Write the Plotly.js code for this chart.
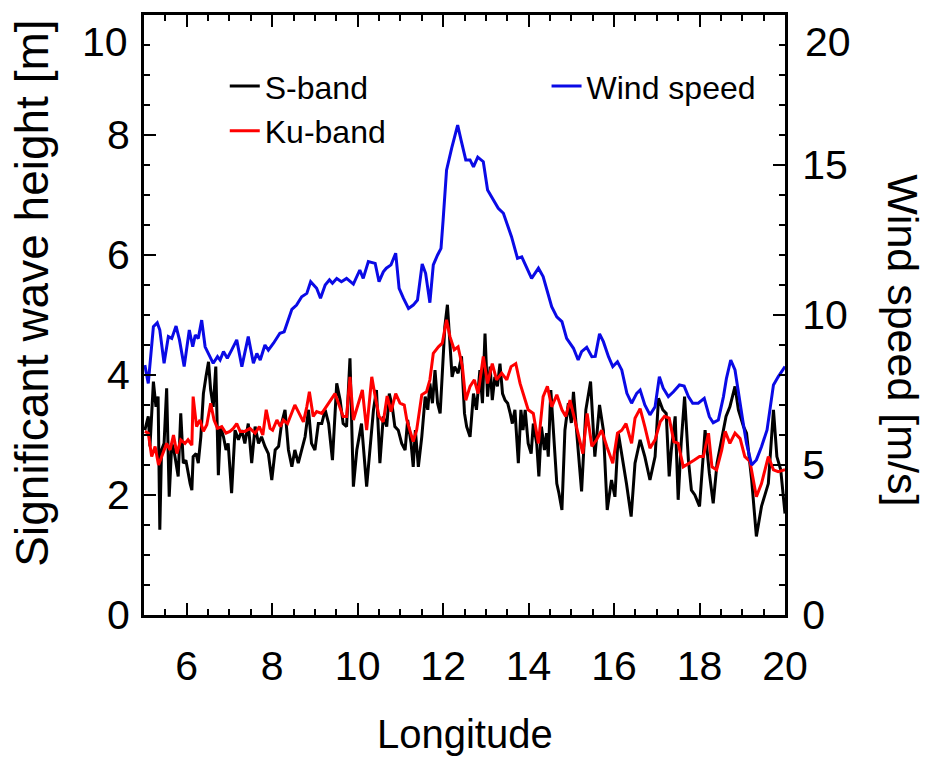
<!DOCTYPE html>
<html>
<head>
<meta charset="utf-8">
<script src="https://cdn.plot.ly/plotly-3.0.1.min.js"></script>
<style>html,body{margin:0;padding:0;background:#fff;}#chart{width:926px;height:761px;}</style>
</head>
<body>
<div id="chart"></div>
<script>
// S-band significant wave height [m]
const sLon = [5.02,5.10,5.14,5.22,5.28,5.33,5.37,5.41,5.47,5.53,5.59,5.65,5.70,5.75,5.80,5.86,5.92,5.98,6.04,6.08,6.12,6.15,6.22,6.27,6.33,6.39,6.45,6.51,6.56,6.62,6.68,6.74,6.79,6.86,6.92,6.97,7.05,7.13,7.21,7.29,7.36,7.44,7.52,7.60,7.68,7.75,7.83,7.91,7.99,8.07,8.15,8.22,8.30,8.38,8.46,8.53,8.61,8.69,8.77,8.85,8.92,9.00,9.08,9.16,9.24,9.32,9.41,9.51,9.59,9.66,9.74,9.82,9.90,9.98,10.09,10.21,10.29,10.37,10.44,10.52,10.60,10.68,10.74,10.81,10.87,10.95,11.03,11.11,11.17,11.25,11.30,11.35,11.42,11.50,11.58,11.64,11.69,11.75,11.81,11.87,11.93,11.98,12.04,12.10,12.16,12.21,12.27,12.35,12.43,12.50,12.55,12.63,12.71,12.78,12.86,12.92,12.98,13.04,13.10,13.15,13.21,13.27,13.33,13.39,13.45,13.51,13.57,13.62,13.68,13.76,13.82,13.87,13.92,13.99,14.06,14.11,14.19,14.24,14.30,14.37,14.42,14.46,14.52,14.58,14.66,14.71,14.78,14.85,14.93,15.00,15.05,15.14,15.24,15.34,15.45,15.55,15.66,15.75,15.84,15.94,16.02,16.10,16.22,16.29,16.40,16.49,16.61,16.72,16.84,16.96,17.04,17.14,17.22,17.29,17.34,17.43,17.50,17.57,17.65,17.74,17.81,17.89,18.00,18.13,18.23,18.32,18.41,18.52,18.62,18.71,18.83,18.91,19.03,19.10,19.22,19.33,19.45,19.61,19.73,19.81,19.90,20.00];
const sBand = [3.08,3.31,2.81,3.89,3.47,3.64,1.42,2.75,2.86,3.78,1.97,2.86,2.75,2.53,2.31,3.36,2.53,2.58,2.31,2.19,2.08,2.64,2.69,2.53,2.97,3.69,3.97,4.22,3.75,3.47,4.14,2.33,3.14,2.97,2.75,2.86,2.03,3.08,2.92,3.08,2.86,3.19,2.53,3.14,2.86,2.97,2.81,2.69,2.25,2.75,2.81,3.19,3.42,2.75,2.47,2.75,2.53,2.75,2.97,3.42,2.86,2.75,3.19,3.19,3.42,3.19,2.58,3.86,3.58,3.19,3.14,4.28,2.14,2.75,3.19,2.14,2.81,3.42,3.75,2.53,3.31,3.14,3.69,3.47,3.14,3.08,2.86,2.75,3.25,2.86,2.47,3.08,2.47,2.97,3.64,3.42,3.86,3.53,4.08,3.53,3.36,4.08,4.81,5.17,4.53,3.97,4.14,4.03,4.31,3.36,3.14,2.97,3.69,3.42,4.08,3.53,4.69,3.64,4.14,3.58,3.97,3.81,4.19,3.69,3.58,3.53,3.36,3.19,3.42,2.53,3.42,3.08,3.42,2.86,2.69,3.19,2.86,2.31,3.14,2.75,3.03,2.64,3.75,3.08,2.19,2.03,1.75,3.08,3.53,3.20,3.72,2.92,2.06,3.42,3.89,2.64,3.50,3.08,1.75,2.25,1.97,3.03,2.53,2.19,1.64,2.53,2.92,2.64,2.25,2.64,3.61,3.42,3.36,2.31,2.75,3.31,1.92,2.86,3.64,2.58,2.08,2.00,1.81,3.08,2.36,1.86,2.53,2.97,3.31,3.47,3.81,3.42,3.14,3.03,2.25,1.31,1.81,2.19,3.42,2.64,2.42,1.69];

// Ku-band significant wave height [m]
const kuLon = [5.02,5.10,5.18,5.26,5.34,5.41,5.53,5.61,5.69,5.77,5.86,5.96,6.03,6.12,6.15,6.23,6.31,6.39,6.47,6.56,6.64,6.72,6.82,6.92,7.01,7.09,7.17,7.25,7.36,7.48,7.60,7.70,7.78,7.86,7.95,8.01,8.11,8.19,8.26,8.36,8.46,8.53,8.61,8.73,8.81,8.87,8.96,9.04,9.16,9.26,9.36,9.47,9.55,9.66,9.74,9.82,9.90,10.02,10.11,10.21,10.33,10.41,10.50,10.60,10.69,10.78,10.89,10.99,11.09,11.15,11.22,11.30,11.38,11.50,11.61,11.69,11.77,11.89,11.98,12.08,12.16,12.26,12.35,12.45,12.53,12.63,12.73,12.82,12.94,13.04,13.15,13.25,13.37,13.49,13.59,13.70,13.80,13.90,13.99,14.11,14.23,14.34,14.44,14.54,14.66,14.78,14.87,14.97,15.06,15.16,15.27,15.37,15.48,15.59,15.71,15.83,15.97,16.08,16.18,16.28,16.41,16.49,16.61,16.72,16.84,16.96,17.08,17.18,17.29,17.40,17.50,17.62,17.74,17.87,18.00,18.09,18.21,18.29,18.40,18.52,18.60,18.71,18.83,18.95,19.06,19.18,19.33,19.45,19.61,19.73,19.84,20.00];
const kuBand = [3.06,3.03,2.64,2.81,2.50,2.64,2.86,2.75,3.00,2.69,2.92,2.86,2.92,2.83,3.64,3.14,3.25,3.06,3.17,3.53,3.25,3.11,3.14,3.03,3.06,3.11,3.19,3.06,3.06,3.11,3.03,3.14,3.00,3.42,3.11,3.08,3.25,3.14,3.25,3.19,3.36,3.50,3.39,3.22,3.47,3.72,3.31,3.39,3.36,3.47,3.58,3.69,3.53,3.31,3.31,3.97,3.25,3.55,3.75,3.08,3.97,3.64,3.31,3.22,3.65,3.39,3.69,3.53,3.50,3.25,3.08,2.89,3.08,3.67,3.72,3.92,4.36,4.47,4.53,4.92,4.64,4.42,4.47,4.14,3.58,3.81,3.92,3.69,4.31,3.86,4.19,3.92,4.03,3.92,4.14,4.19,3.86,3.64,3.42,3.36,2.86,3.64,3.81,3.47,3.67,3.42,3.31,3.58,3.30,3.03,2.69,3.36,2.81,2.92,3.08,2.81,2.53,3.03,3.08,3.19,2.86,3.28,3.44,3.14,2.78,2.92,3.22,3.31,3.28,2.89,2.86,2.47,2.53,2.58,2.64,2.64,3.03,2.47,2.42,2.75,3.06,2.86,3.03,2.94,2.64,2.56,1.97,2.19,2.64,2.42,2.39,2.42];

// Wind speed [m/s]
const wLon = [5.02,5.10,5.22,5.31,5.37,5.47,5.57,5.65,5.75,5.83,5.94,6.06,6.14,6.20,6.27,6.35,6.43,6.54,6.62,6.72,6.78,6.86,6.95,7.05,7.17,7.29,7.44,7.56,7.64,7.72,7.83,7.91,8.03,8.18,8.28,8.46,8.57,8.69,8.81,8.90,9.04,9.13,9.24,9.34,9.41,9.51,9.62,9.74,9.90,10.05,10.13,10.25,10.41,10.50,10.60,10.67,10.78,10.89,10.97,11.07,11.19,11.30,11.40,11.51,11.59,11.69,11.77,11.87,11.95,12.00,12.08,12.20,12.34,12.42,12.53,12.63,12.71,12.81,12.94,13.04,13.17,13.29,13.41,13.60,13.74,13.84,14.07,14.23,14.34,14.54,14.66,14.78,14.89,15.05,15.16,15.24,15.36,15.48,15.56,15.66,15.75,15.87,15.97,16.08,16.18,16.30,16.41,16.53,16.61,16.72,16.84,16.96,17.06,17.15,17.27,17.39,17.53,17.64,17.74,17.84,17.97,18.11,18.23,18.32,18.44,18.56,18.63,18.73,18.83,18.91,19.01,19.10,19.22,19.33,19.45,19.58,19.73,19.84,20.00];
const wind = [8.33,7.72,9.61,9.74,9.50,8.39,9.28,9.22,9.63,9.17,8.28,9.50,8.94,9.33,9.22,9.83,8.94,8.61,8.39,8.61,8.50,8.78,8.56,8.83,9.17,8.28,9.28,8.39,8.72,8.50,9.00,8.83,9.06,9.39,9.44,10.19,10.33,10.61,10.72,11.11,10.89,10.56,11.00,11.17,11.06,11.22,11.11,11.22,11.03,11.50,11.22,11.78,11.72,11.11,11.44,11.56,11.67,12.06,10.89,10.56,10.22,10.33,10.50,11.70,11.39,10.41,11.67,12.00,12.22,13.17,14.83,15.56,16.33,15.83,15.17,15.17,14.94,15.26,15.11,14.17,13.83,13.56,13.39,12.61,11.89,11.94,11.22,11.56,11.28,10.28,9.94,9.78,9.22,8.89,8.50,8.78,8.92,8.61,8.62,9.37,9.11,8.61,8.28,8.44,8.17,7.39,7.06,7.39,7.50,7.00,6.67,6.94,7.94,7.56,7.28,7.44,7.67,7.63,7.28,7.06,7.06,7.22,6.61,6.41,6.50,7.28,7.89,8.50,8.17,7.39,6.50,5.72,5.00,5.17,5.61,6.17,7.67,7.94,8.28];

const xTicks = [6,8,10,12,14,16,18,20];
const yTicks = [0,2,4,6,8,10];
const y2Ticks = [0,5,10,15,20];

const TXT = "Liberation Sans, Arial, Helvetica, sans-serif";
const TICKSIZE = 41;

const traces = [
  {x: sLon, y: sBand, name: "S-band", type: "scatter", mode: "lines",
   line: {color: "#000000", width: 3}, legend: "legend", xaxis: "x", yaxis: "y"},
  {x: kuLon, y: kuBand, name: "Ku-band", type: "scatter", mode: "lines",
   line: {color: "#ff0000", width: 3}, legend: "legend", xaxis: "x", yaxis: "y"},
  {x: wLon, y: wind, name: "Wind speed", type: "scatter", mode: "lines",
   line: {color: "rgb(10,10,230)", width: 3}, legend: "legend2", xaxis: "x", yaxis: "y2"}
];

const tickCommon = {
  ticks: "inside", tickcolor: "#000", tickwidth: 2, showline: true, linecolor: "#000",
  linewidth: 3, showgrid: false, zeroline: false, fixedrange: true,
  tickfont: {family: TXT, size: TICKSIZE, color: "#000"}
};

// the topmost label of each vertical axis is drawn just below the frame top
const yTop = yTicks[yTicks.length - 1];
const y2Top = y2Ticks[y2Ticks.length - 1];

const layout = {
  width: 926, height: 761,
  margin: {l: 144, r: 141, t: 15, b: 146, pad: 0},
  paper_bgcolor: "#fff", plot_bgcolor: "#fff",
  showlegend: true,
  xaxis: Object.assign({}, tickCommon, {
    range: [5, 20], tickmode: "array", tickvals: xTicks, ticktext: xTicks.map(String),
    ticklen: 12, mirror: "ticks", ticklabelstandoff: 13,
    minor: {dtick: 0.5, tick0: 0, ticks: "inside", ticklen: 6, tickwidth: 2, tickcolor: "#000", showgrid: false}
  }),
  yaxis: Object.assign({}, tickCommon, {
    range: [0, 10], tickmode: "array", tickvals: yTicks,
    ticktext: yTicks.map(v => v === yTop ? "" : String(v)),
    ticklen: 12, mirror: false, ticklabelstandoff: 3,
    minor: {dtick: 0.5, tick0: 0, ticks: "inside", ticklen: 6, tickwidth: 2, tickcolor: "#000", showgrid: false}
  }),
  yaxis2: Object.assign({}, tickCommon, {
    range: [0, 20], overlaying: "y", side: "right", anchor: "x",
    tickmode: "array", tickvals: y2Ticks,
    ticktext: y2Ticks.map(v => v === y2Top ? "" : String(v)),
    ticklen: 12, ticklabelstandoff: 6,
    minor: {dtick: 1, tick0: 0, ticks: "inside", ticklen: 6, tickwidth: 2, tickcolor: "#000", showgrid: false}
  }),
  legend: {x: 0.126, y: 0.927, xanchor: "left", yanchor: "top", bgcolor: "rgba(0,0,0,0)",
    borderwidth: 0, font: {family: TXT, size: 32, color: "#000"}, tracegroupgap: 0},
  legend2: {x: 0.628, y: 0.927, xanchor: "left", yanchor: "top", bgcolor: "rgba(0,0,0,0)",
    borderwidth: 0, font: {family: TXT, size: 32, color: "#000"}},
  annotations: [
    {text: String(yTop), xref: "paper", yref: "y", x: 0, y: yTop, xanchor: "right", yanchor: "middle",
     xshift: -14, yshift: -27, showarrow: false, font: {family: TXT, size: TICKSIZE, color: "#000"}},
    {text: String(y2Top), xref: "paper", yref: "y2", x: 1, y: y2Top, xanchor: "left", yanchor: "middle",
     xshift: 18, yshift: -27, showarrow: false, font: {family: TXT, size: TICKSIZE, color: "#000"}},
    {text: "Longitude", xref: "paper", yref: "paper", x: 0.5, y: -0.198,
     xanchor: "center", yanchor: "middle", showarrow: false,
     font: {family: TXT, size: 40, color: "#000"}},
    {text: "Significant wave height [m]", xref: "paper", yref: "paper", x: -0.175, y: 0.537,
     xanchor: "center", yanchor: "middle", textangle: -90, showarrow: false,
     font: {family: TXT, size: 46, color: "#000"}},
    {text: "Wind speed [m/s]", xref: "paper", yref: "paper", x: 1.184, y: 0.458,
     xanchor: "center", yanchor: "middle", textangle: 90, showarrow: false,
     font: {family: TXT, size: 43, color: "#000"}}
  ]
};

Plotly.newPlot("chart", traces, layout, {staticPlot: true, displayModeBar: false});
</script>
</body>
</html>
